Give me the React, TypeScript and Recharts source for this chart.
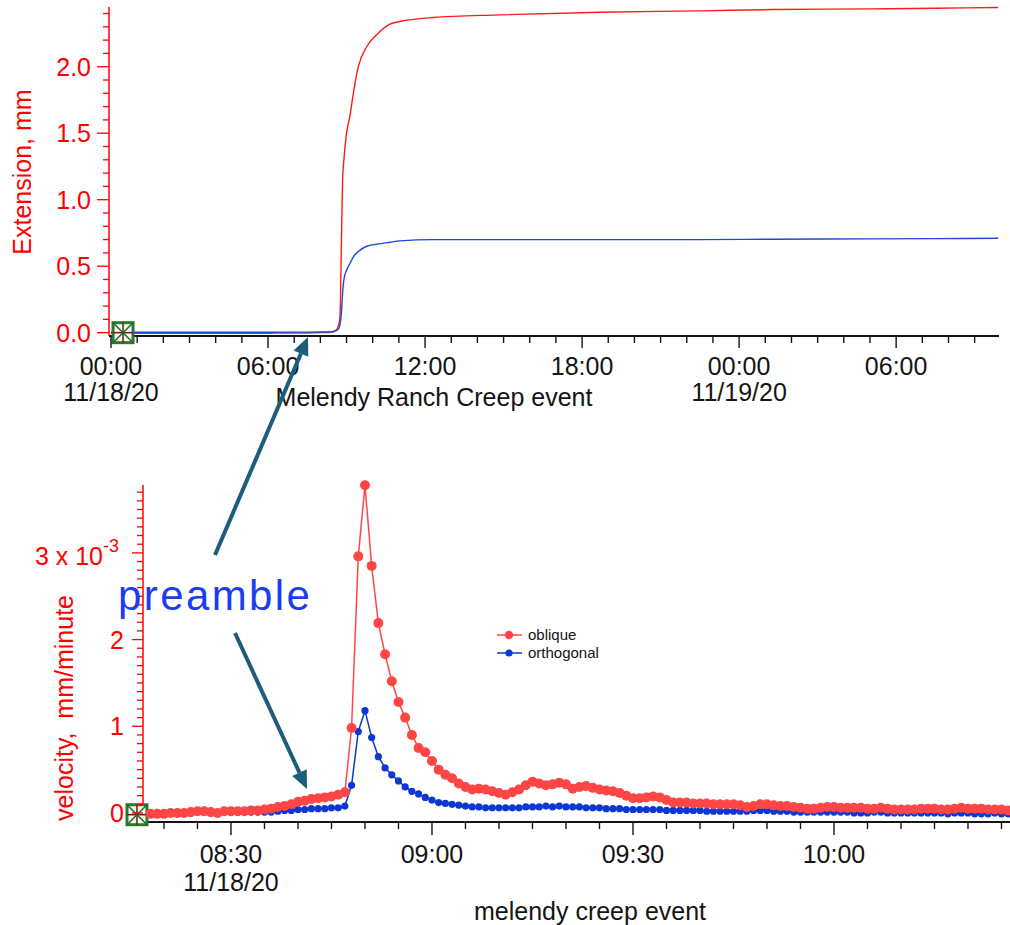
import React from 'react';
import { LineChart, Line, XAxis, YAxis, ReferenceDot, Legend, Label } from 'recharts';

const FONT = '"Liberation Sans", Arial, Helvetica, sans-serif';

const RED = '#ff1a1a';
const BLUE = '#1e46d8';
const RED_VEL = '#ff4646';
const BLUE_VEL = '#0c37d2';
const AXIS_RED = '#ff0000';
const INK = '#141414';
const ARROW = '#1d5c7a';
const PREAMBLE_BLUE = '#1c3cf2';

// top panel: cumulative extension (mm), hours after 00:00 11/18/20
const extHours = [0, 2, 4, 6, 7.5, 8, 8.4, 8.6, 8.7, 8.75, 8.8, 8.85, 8.9, 9, 9.13, 9.26, 9.45, 9.77, 10.15, 10.66, 11.04, 12.3, 14.9, 18.7, 22.5, 25.3, 29, 31.5, 33.9];
const extOblique = [-0.005, -0.005, -0.005, -0.004, -0.002, 0, 0.003, 0.02, 0.06, 0.12, 0.62, 1.15, 1.3, 1.5, 1.63, 1.8, 2.0, 2.15, 2.24, 2.32, 2.34, 2.37, 2.39, 2.41, 2.42, 2.43, 2.435, 2.44, 2.445];
const extOrthogonal = [0.003, 0.003, 0.003, 0.003, 0.004, 0.005, 0.006, 0.015, 0.03, 0.06, 0.14, 0.3, 0.4, 0.47, 0.52, 0.57, 0.61, 0.65, 0.665, 0.68, 0.69, 0.7, 0.7, 0.7, 0.7, 0.703, 0.705, 0.707, 0.71];

// bottom panel: velocity in units of 1e-3 mm/minute, one sample per minute from 08:18
const velStartMinute = 18; // minutes after 08:00
const velOblique = [
  -0.01, -0.01, -0.01, 0.0, 0.0, 0.0, 0.01, 0.02, 0.02, 0.01,
  0.0, 0.02, 0.02, 0.02, 0.02, 0.03, 0.03, 0.04, 0.05, 0.07,
  0.08, 0.1, 0.13, 0.14, 0.16, 0.17, 0.18, 0.19, 0.21, 0.24,
  0.98, 2.96, 3.78, 2.85, 2.19, 1.83, 1.52, 1.28, 1.1, 0.9,
  0.75, 0.7, 0.6, 0.5, 0.44, 0.4, 0.34, 0.3, 0.27, 0.28,
  0.27, 0.25, 0.23, 0.21, 0.24, 0.27, 0.32, 0.36, 0.34, 0.32,
  0.33, 0.35, 0.33, 0.28, 0.3, 0.31, 0.29, 0.27, 0.26, 0.25,
  0.23, 0.2, 0.17, 0.17, 0.18, 0.19, 0.18, 0.15, 0.12, 0.12,
  0.12, 0.11, 0.11, 0.11, 0.1, 0.1, 0.1, 0.1, 0.09, 0.07,
  0.08, 0.1, 0.1, 0.09, 0.08, 0.08, 0.07, 0.06, 0.05, 0.05,
  0.06, 0.07, 0.07, 0.06, 0.06, 0.06, 0.06, 0.05, 0.05, 0.06,
  0.05, 0.04, 0.04, 0.04, 0.04, 0.05, 0.05, 0.05, 0.04, 0.04,
  0.05, 0.06, 0.05, 0.05, 0.05, 0.04, 0.04, 0.04, 0.03,
];
const velOrthogonal = [
  0.0, 0.0, 0.0, 0.0, 0.0, 0.0, 0.0, 0.01, 0.01, 0.0,
  0.0, 0.01, 0.01, 0.01, 0.01, 0.01, 0.01, 0.01, 0.01, 0.02,
  0.03, 0.03, 0.04, 0.04, 0.05, 0.05, 0.05, 0.06, 0.06, 0.08,
  0.32, 0.94, 1.18, 0.87, 0.65, 0.52, 0.44, 0.37, 0.3, 0.25,
  0.22, 0.18, 0.15, 0.12, 0.11, 0.1, 0.09, 0.08, 0.07, 0.07,
  0.06, 0.06, 0.06, 0.06, 0.06, 0.06, 0.07, 0.07, 0.07, 0.08,
  0.07, 0.08, 0.07, 0.07, 0.07, 0.06, 0.06, 0.06, 0.05, 0.05,
  0.05, 0.04, 0.04, 0.04, 0.04, 0.04, 0.04, 0.03, 0.03, 0.03,
  0.03, 0.03, 0.03, 0.02, 0.02, 0.02, 0.02, 0.02, 0.02, 0.02,
  0.03, 0.03, 0.03, 0.02, 0.02, 0.02, 0.01, 0.01, 0.01, 0.01,
  0.01, 0.01, 0.01, 0.01, 0.01, 0.0, 0.0, 0.0, 0.01, 0.01,
  0.0, 0.0, 0.0, 0.0, 0.0, 0.0, 0.0, 0.0, 0.0, -0.01,
  0.0, 0.0, 0.0, -0.01, -0.01, -0.01, 0.0, -0.01, -0.01,
];

// tick labels
const topMajorHours = [0, 6, 12, 18, 24, 30];
const topTimeLabels = ['00:00', '06:00', '12:00', '18:00', '00:00', '06:00'];
const topDateLabels = ['11/18/20', '', '', '', '11/19/20', ''];
const velMajorMinutes = [30, 60, 90, 120];
const velTimeLabels = ['08:30', '09:00', '09:30', '10:00'];
const velDateLabels = ['11/18/20', '', '', ''];

// tick positions (hourly / 5 min / 0.1 steps)
const topHourTicks = Array.from({ length: 34 }, (_, i) => i);
const extYTicks = Array.from({ length: 25 }, (_, i) => i / 10);
const velXTicks = Array.from({ length: 26 }, (_, i) => 20 + i * 5);
const velYTicks = Array.from({ length: 38 }, (_, i) => i / 10);

const extData = extHours.map((h, i) => ({ h, oblique: extOblique[i], orthogonal: extOrthogonal[i] }));
const velData = velOblique.map((v, i) => ({ t: velStartMinute + i, oblique: v, orthogonal: velOrthogonal[i] }));

const legendItems = [
  { name: 'oblique', color: RED_VEL, r: 4.2 },
  { name: 'orthogonal', color: BLUE_VEL, r: 3.6 },
];

const textStyle = { fontFamily: FONT, fontSize: 25 };

function ExtXTick({ x, y, payload }: any) {
  const i = topMajorHours.indexOf(payload.value);
  const major = i >= 0;
  return (
    <g>
      <line x1={x} x2={x} y1={y} y2={y + (major ? 12 : 7)} stroke={INK} strokeWidth={1.4} />
      {major && (
        <text x={x} y={y + 39} textAnchor="middle" fill={INK} style={textStyle}>
          {topTimeLabels[i]}
        </text>
      )}
      {major && topDateLabels[i] && (
        <text x={x} y={y + 65} textAnchor="middle" fill={INK} style={textStyle}>
          {topDateLabels[i]}
        </text>
      )}
    </g>
  );
}

function ExtYTick({ x, y, payload }: any) {
  const k = Math.round(payload.value * 10);
  const major = k % 5 === 0;
  return (
    <g>
      <line x1={x - (major ? 12 : 6)} x2={x} y1={y} y2={y} stroke={AXIS_RED} strokeWidth={1.3} />
      {major && (
        <text x={x - 18} y={y + 9} textAnchor="end" fill={AXIS_RED} style={textStyle}>
          {(k / 10).toFixed(1)}
        </text>
      )}
    </g>
  );
}

function VelXTick({ x, y, payload }: any) {
  const i = velMajorMinutes.indexOf(payload.value);
  const major = i >= 0;
  return (
    <g>
      <line x1={x} x2={x} y1={y} y2={y + (major ? 13 : 7)} stroke={INK} strokeWidth={1.4} />
      {major && (
        <text x={x} y={y + 41} textAnchor="middle" fill={INK} style={textStyle}>
          {velTimeLabels[i]}
        </text>
      )}
      {major && velDateLabels[i] && (
        <text x={x} y={y + 69} textAnchor="middle" fill={INK} style={textStyle}>
          {velDateLabels[i]}
        </text>
      )}
    </g>
  );
}

function VelYTick({ x, y, payload }: any) {
  const k = Math.round(payload.value * 10);
  const major = k % 10 === 0;
  return (
    <g>
      <line x1={x - (major ? 11 : 6)} x2={x} y1={y} y2={y} stroke={AXIS_RED} strokeWidth={1.3} />
      {major && k !== 30 && (
        <text x={x - 19} y={y + 9} textAnchor="end" fill={AXIS_RED} style={textStyle}>
          {String(k / 10)}
        </text>
      )}
      {k === 30 && (
        <text x={x - 24} y={y + 12} textAnchor="end" fill={AXIS_RED} style={textStyle}>
          3 x 10
          <tspan dy={-13} style={{ fontSize: 18 }}>-3</tspan>
        </text>
      )}
    </g>
  );
}

function CursorMark({ cx, cy }: any) {
  const s = 10;
  return (
    <g>
      <rect x={cx - s} y={cy - s} width={2 * s} height={2 * s} fill="#f4f7f4" stroke="#2b7a2b" strokeWidth={3} />
      <line x1={cx} x2={cx} y1={cy - s} y2={cy + s} stroke="#7a1515" strokeWidth={1.5} />
      <line x1={cx - s} x2={cx + s} y1={cy} y2={cy} stroke="#7a1515" strokeWidth={1.5} />
      <line x1={cx - s} x2={cx + s} y1={cy - s} y2={cy + s} stroke="#1f6b1f" strokeWidth={1.5} />
      <line x1={cx - s} x2={cx + s} y1={cy + s} y2={cy - s} stroke="#1f6b1f" strokeWidth={1.5} />
    </g>
  );
}

function VelLegend() {
  return (
    <svg width={130} height={36} style={{ display: 'block', overflow: 'visible' }}>
      {legendItems.map((it, i) => (
        <g key={it.name}>
          <line x1={0} x2={25} y1={8 + i * 18} y2={8 + i * 18} stroke={it.color} strokeWidth={1.5} />
          <circle cx={12} cy={8 + i * 18} r={it.r} fill={it.color} />
          <text x={31} y={13 + i * 18} fill={INK} style={{ fontFamily: FONT, fontSize: 15 }}>
            {it.name}
          </text>
        </g>
      ))}
    </svg>
  );
}

function Arrow({ x1, y1, x2, y2 }: { x1: number; y1: number; x2: number; y2: number }) {
  const a = Math.atan2(y2 - y1, x2 - x1);
  const len = 18;
  const hw = 8;
  const bx = x2 - len * Math.cos(a);
  const by = y2 - len * Math.sin(a);
  const px = -Math.sin(a) * hw;
  const py = Math.cos(a) * hw;
  return (
    <g>
      <line x1={x1} y1={y1} x2={bx} y2={by} stroke={ARROW} strokeWidth={4} />
      <polygon points={`${x2},${y2} ${bx + px},${by + py} ${bx - px},${by - py}`} fill={ARROW} />
    </g>
  );
}

export default function App() {
  return (
    <div style={{ position: 'absolute', left: 0, top: 0, width: 1010, height: 925, background: '#fff', overflow: 'hidden' }}>
      <div style={{ position: 'absolute', left: 0, top: 0 }}>
        <LineChart width={1010} height={420} data={extData} margin={{ top: 7, right: 11, bottom: 0, left: 0 }}>
          <XAxis
            dataKey="h"
            type="number"
            domain={[-0.076, 33.93]}
            ticks={topHourTicks}
            interval={0}
            tick={<ExtXTick />}
            tickLine={false}
            tickSize={0}
            tickMargin={0}
            height={84}
            axisLine={{ stroke: INK, strokeWidth: 2 }}
          >
            <Label
              content={() => (
                <text x={434} y={406} textAnchor="middle" fill={INK} style={textStyle}>
                  Melendy Ranch Creep event
                </text>
              )}
            />
          </XAxis>
          <YAxis
            type="number"
            domain={[-0.025, 2.449]}
            ticks={extYTicks}
            interval={0}
            tick={<ExtYTick />}
            tickLine={false}
            tickSize={0}
            tickMargin={0}
            width={109}
            axisLine={{ stroke: AXIS_RED, strokeWidth: 1.5 }}
          >
            <Label
              content={() => (
                <text x={31} y={172} transform="rotate(-90, 31, 172)" textAnchor="middle" fill={AXIS_RED} style={textStyle}>
                  Extension, mm
                </text>
              )}
            />
          </YAxis>
          <Line type="monotone" dataKey="oblique" stroke={RED} strokeWidth={1.4} dot={false} activeDot={false} isAnimationActive={false} />
          <Line type="monotone" dataKey="orthogonal" stroke={BLUE} strokeWidth={1.4} dot={false} activeDot={false} isAnimationActive={false} />
          <ReferenceDot x={0.46} y={0} r={10} ifOverflow="visible" shape={<CursorMark />} />
        </LineChart>
      </div>

      <div style={{ position: 'absolute', left: 0, top: 440 }}>
        <LineChart width={1010} height={485} data={velData} margin={{ top: 45, right: 0, bottom: 0, left: 0 }}>
          <XAxis
            dataKey="t"
            type="number"
            domain={[16.87, 146.27]}
            ticks={velXTicks}
            interval={0}
            tick={<VelXTick />}
            tickLine={false}
            tickSize={0}
            tickMargin={0}
            height={103}
            axisLine={{ stroke: INK, strokeWidth: 2 }}
          >
            <Label
              content={() => (
                <text x={590} y={480} textAnchor="middle" fill={INK} style={textStyle}>
                  melendy creep event
                </text>
              )}
            />
          </XAxis>
          <YAxis
            type="number"
            domain={[-0.104, 3.783]}
            ticks={velYTicks}
            interval={0}
            tick={<VelYTick />}
            tickLine={false}
            tickSize={0}
            tickMargin={0}
            width={143}
            axisLine={{ stroke: AXIS_RED, strokeWidth: 1.5 }}
          >
            <Label
              content={() => (
                <text
                  x={73}
                  y={268}
                  transform="rotate(-90, 73, 268)"
                  textAnchor="middle"
                  fill={AXIS_RED}
                  style={{ ...textStyle, whiteSpace: 'pre' }}
                >
                  {'velocity,  mm/minute'}
                </text>
              )}
            />
          </YAxis>
          <Legend
            layout="vertical"
            align="center"
            verticalAlign="middle"
            wrapperStyle={{ left: 497, top: 187, width: 130 }}
            content={<VelLegend />}
          />
          <Line
            type="linear"
            dataKey="orthogonal"
            name="orthogonal"
            stroke={BLUE_VEL}
            strokeWidth={1.5}
            dot={{ r: 3.6, fill: BLUE_VEL, stroke: 'none' }}
            activeDot={false}
            isAnimationActive={false}
          />
          <Line
            type="linear"
            dataKey="oblique"
            name="oblique"
            stroke={RED_VEL}
            strokeWidth={1.5}
            dot={{ r: 5, fill: RED_VEL, stroke: 'none' }}
            activeDot={false}
            isAnimationActive={false}
          />
          <ReferenceDot x={15.97} y={-0.02} r={10} ifOverflow="visible" shape={<CursorMark />} />
        </LineChart>
      </div>

      {/* annotation layer */}
      <svg width={1010} height={925} style={{ position: 'absolute', left: 0, top: 0, pointerEvents: 'none' }}>
        <Arrow x1={215} y1={555} x2={308} y2={337} />
        <Arrow x1={235} y1={633} x2={307} y2={789} />
        <text x={118} y={610} fill={PREAMBLE_BLUE} style={{ fontFamily: FONT, fontSize: 42, letterSpacing: 2.4 }}>
          preamble
        </text>
      </svg>
    </div>
  );
}
